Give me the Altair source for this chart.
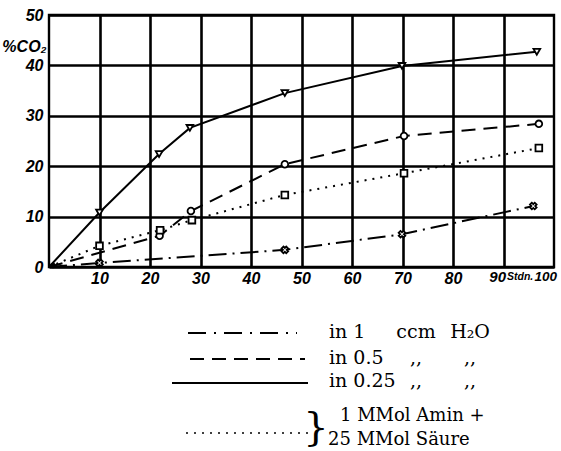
import altair as alt
import pandas as pd

# ---- data (hours vs % CO2) ----
hours_solid = [0, 10, 21.8, 27.9, 46.7, 69.9, 96.6]
co2_solid = [0, 10.8, 22.4, 27.6, 34.5, 39.9, 42.7]

hours_dashed = [0, 21.9, 28.1, 46.7, 70.3, 97.0]
co2_dashed = [0, 6.2, 11.1, 20.4, 26.0, 28.4]

hours_dotted = [0, 10, 22.0, 28.3, 46.7, 70.3, 97.0]
co2_dotted = [0, 4.2, 7.3, 9.3, 14.3, 18.6, 23.6]

hours_dashdot = [0, 10, 46.7, 69.9, 95.9]
co2_dashdot = [0, 0.8, 3.4, 6.5, 12.1]

x_ticks = [10, 20, 30, 40, 50, 60, 70, 80, 90]
y_ticks = [0, 10, 20, 30, 40, 50]

LABEL_FONT = "Liberation Sans"
SERIF = "DejaVu Serif, Liberation Serif"

W, H = 505, 252

xs = alt.Scale(domain=[0, 100], nice=False)
ys = alt.Scale(domain=[0, 50], nice=False)

x_axis = alt.Axis(values=x_ticks, grid=True, gridColor="black", gridWidth=2.6,
                  gridOpacity=1, ticks=False, domain=False, title=None,
                  labelExpr="datum.value == 90 ? '' : datum.label",
                  labelFont=LABEL_FONT, labelFontStyle="italic", labelFontWeight="bold",
                  labelFontSize=16, labelColor="black", labelPadding=3)
y_axis = alt.Axis(values=y_ticks, grid=True, gridColor="black", gridWidth=2.6,
                  gridOpacity=1, ticks=False, domain=False,
                  title="%CO₂", titleAngle=0, titleX=-25, titleY=31,
                  titleAlign="center", titleBaseline="middle",
                  titleFont=LABEL_FONT, titleFontStyle="italic", titleFontWeight="bold",
                  titleFontSize=16, titleColor="black",
                  labelFont=LABEL_FONT, labelFontStyle="italic", labelFontWeight="bold",
                  labelFontSize=16, labelColor="black", labelPadding=6)

X = alt.X("h:Q", scale=xs, axis=x_axis)
Y = alt.Y("c:Q", scale=ys, axis=y_axis)


def series(xv, yv, dash, shape, angle=0):
    df = pd.DataFrame({"h": xv, "c": yv})
    base = alt.Chart(df)
    line_kw = dict(color="black", strokeWidth=2)
    if dash:
        line_kw["strokeDash"] = dash
    line = base.mark_line(**line_kw).encode(x=X, y=Y)
    pts = base.transform_filter("datum.h > 0").mark_point(
        shape=shape, angle=angle, size=45, filled=True, fill="white",
        stroke="black", strokeWidth=1.8, opacity=1
    ).encode(x=X, y=Y)
    return [line, pts]


layers = []
layers += series(hours_solid, co2_solid, None, "triangle-down")
layers += series(hours_dashed, co2_dashed, [14, 8], "circle")
layers += series(hours_dotted, co2_dotted, [2, 6], "square")
layers += series(hours_dashdot, co2_dashdot, [18, 6, 2, 6], "cross", angle=45)

one = pd.DataFrame({"a": [0]})

# origin blob
layers.append(alt.Chart(one).mark_point(shape="circle", size=30, filled=True,
                                        color="black", opacity=1).encode(
    x=alt.datum(0.8, scale=xs, axis=x_axis), y=alt.datum(0.3, scale=ys, axis=y_axis)))

# "90 Stdn. 100" at the right end of the x axis
axis_txt = dict(font=LABEL_FONT, fontStyle="italic", fontWeight="bold", color="black",
                baseline="top")
for txt, xv, al, dx, dy, fs in [("90", 90, "right", 2.5, 3, 15),
                                ("Stdn.", 90, "left", 3.5, 4.5, 10.5),
                                ("100", 100, "right", 3, 3, 13.5)]:
    layers.append(alt.Chart(one).mark_text(text=txt, align=al, dx=dx, dy=dy,
                                           fontSize=fs, **axis_txt).encode(
        x=alt.datum(xv, scale=xs, axis=x_axis), y=alt.datum(0, scale=ys, axis=y_axis)))

# ---- legend below the plot ----
leg_names = ["in 1", "in 0.5", "in 0.25"]
leg_col2 = ["ccm", ",,", ",,"]
leg_col3 = ["H₂O", ",,", ",,"]
leg_dashes = [[18, 8, 2, 8], [14, 8], None]
line_x0 = [139, 141, 123]
line_x1 = [248, 256, 259]
line_y = [318, 344, 368]
text_y = [317, 343, 366]

for name, c2, c3, dash, xa, xb, ly, ty in zip(leg_names, leg_col2, leg_col3, leg_dashes,
                                            line_x0, line_x1, line_y, text_y):
    kw = dict(color="black", strokeWidth=2.2)
    if dash:
        kw["strokeDash"] = dash
    layers.append(alt.Chart(one).mark_rule(**kw).encode(
        x=alt.value(xa), x2=alt.value(xb), y=alt.value(ly)))
    for txt, xx, al in [(name, 280, "left"), (c2, 367, "center"), (c3, 421, "center")]:
        layers.append(alt.Chart(one).mark_text(
            text=txt, align=al, baseline="middle", font=SERIF, fontSize=19, color="black"
        ).encode(x=alt.value(xx), y=alt.value(ty)))

layers.append(alt.Chart(one).mark_rule(color="black", strokeWidth=1.5, strokeDash=[2, 6]).encode(
    x=alt.value(137), x2=alt.value(259), y=alt.value(418)))
layers.append(alt.Chart(one).mark_text(
    text="}", align="center", baseline="middle", font=SERIF, fontSize=40, color="black"
).encode(x=alt.value(267), y=alt.value(413)))
layers.append(alt.Chart(one).mark_text(
    text="1 MMol Amin +", align="left", baseline="middle", font=SERIF, fontSize=18, color="black"
).encode(x=alt.value(291), y=alt.value(401)))
layers.append(alt.Chart(one).mark_text(
    text="25 MMol Säure", align="left", baseline="middle", font=SERIF, fontSize=18, color="black"
).encode(x=alt.value(279), y=alt.value(425)))

chart = alt.layer(*layers).properties(
    width=W, height=H,
    autosize=alt.AutoSizeParams(type="none"),
    padding={"left": 49, "top": 15, "right": 7, "bottom": 184},
    background="white",
).configure_view(stroke="black", strokeWidth=2.4).configure_axis(
    gridColor="black", gridOpacity=1)

chart.save("out.html", embed_options={"renderer": "svg", "actions": False})
